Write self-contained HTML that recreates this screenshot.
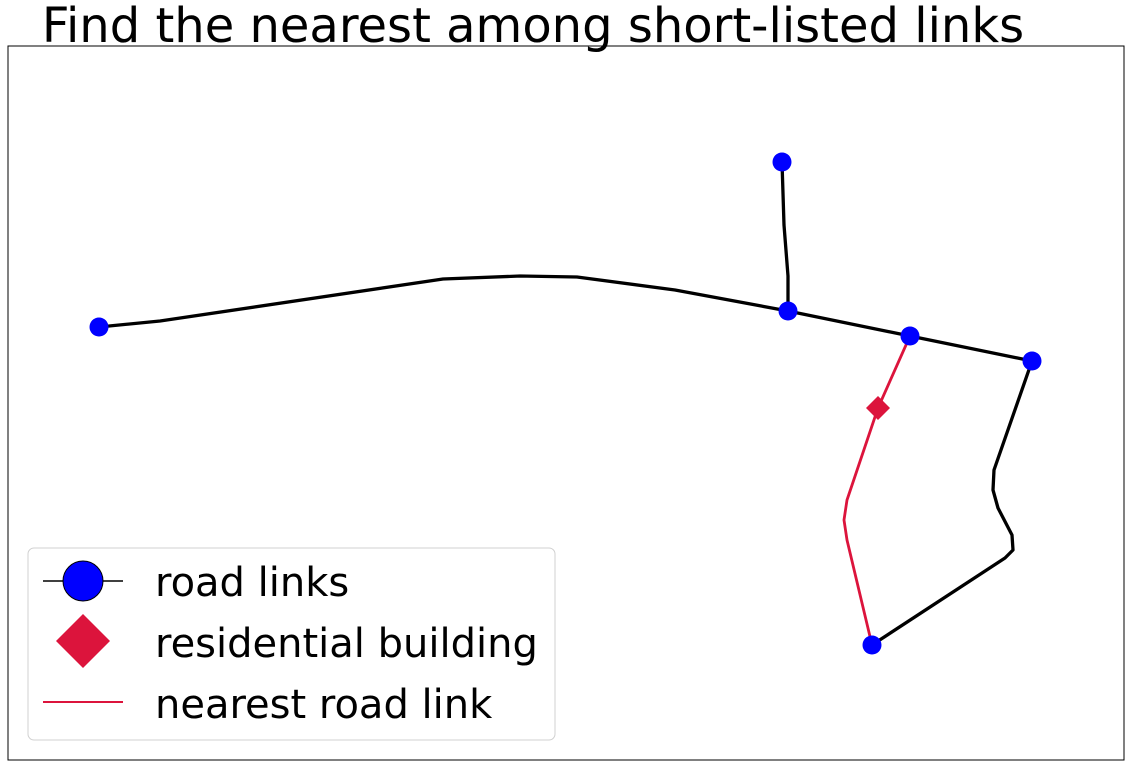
<!DOCTYPE html>
<html><head><meta charset="utf-8"><style>
html,body{margin:0;padding:0;background:#fff;}
svg{display:block;font-family:"DejaVu Sans","Liberation Sans",sans-serif;}
</style></head><body>
<svg id="chart" width="1130" height="767" viewBox="0 0 1130 767">
<rect x="0" y="0" width="1130" height="767" fill="#fff"/>
<text x="533" y="42" font-size="48" text-anchor="middle" fill="#000">Find the nearest among short-listed links</text>
<g id="plot"></g>
<rect x="8" y="46" width="1116" height="714" fill="none" stroke="#000" stroke-width="1"/>
<g>
<rect x="28" y="548" width="527" height="192" rx="6" fill="#fff" stroke="#d0d0d0" stroke-width="1"/>
<line x1="43" y1="581" x2="123" y2="581" stroke="#000" stroke-width="1.5"/>
<circle cx="83" cy="581" r="20" fill="#0000ff" stroke="#000" stroke-width="1"/>
<text x="155" y="596" font-size="40">road links</text>
<polygon points="83,614 110,641 83,668 56,641" fill="#dc143c"/>
<text x="155" y="657" font-size="40">residential building</text>
<line x1="43" y1="702" x2="123" y2="702" stroke="#dc143c" stroke-width="2"/>
<text x="155" y="718" font-size="40">nearest road link</text>
</g>
</svg>
<script>
const mainRoadX = [91,152,435,512,569,667,780,902,1024];
const mainRoadY = [281,275,233,230,231,244,265,290,315];
const spurX = [774,776,780,780];
const spurY = [116,179,230,265];
const loopX = [1024,986,985,990,1004,1005,997,864];
const loopY = [315,424,444,462,489,504,512,599];
const nearestX = [902,870,839,836,839,864];
const nearestY = [290,362,454,474,494,599];
const nodeX = [91,774,780,902,1024,864];
const nodeY = [281,116,265,290,315,599];
const buildingX = [870];
const buildingY = [362];

const X0 = 8, Y0 = 46;
function sx(v){ return X0 + v; }
function sy(v){ return Y0 + v; }
const NS = "http://www.w3.org/2000/svg";
const plot = document.getElementById('plot');
function line(xs, ys, color, w, name){
  const p = document.createElementNS(NS,'polyline');
  p.setAttribute('points', xs.map((x,i)=>sx(x)+','+sy(ys[i])).join(' '));
  p.setAttribute('fill','none');
  p.setAttribute('stroke',color);
  p.setAttribute('stroke-width',w);
  p.setAttribute('stroke-linejoin','round');
  
  
  plot.appendChild(p);
}
line(mainRoadX, mainRoadY, '#000', 3.3, 'main-road-link');
line(spurX, spurY, '#000', 3.3, 'spur-road-link');
line(loopX, loopY, '#000', 3.3, 'loop-road-link');
line(nearestX, nearestY, '#dc143c', 2.8, 'nearest-road-link');
nodeX.forEach((x,i)=>{
  const c = document.createElementNS(NS,'circle');
  c.setAttribute('cx', sx(x)); c.setAttribute('cy', sy(nodeY[i])); c.setAttribute('r', 9.5);
  c.setAttribute('fill','#0000ff');
  
  
  plot.appendChild(c);
});
buildingX.forEach((x,i)=>{
  const cx = sx(x), cy = sy(buildingY[i]), r = 12;
  const d = document.createElementNS(NS,'polygon');
  d.setAttribute('points', `${cx},${cy-r} ${cx+r},${cy} ${cx},${cy+r} ${cx-r},${cy}`);
  d.setAttribute('fill','#dc143c');
  
  
  plot.appendChild(d);
});
</script>
</body></html>
